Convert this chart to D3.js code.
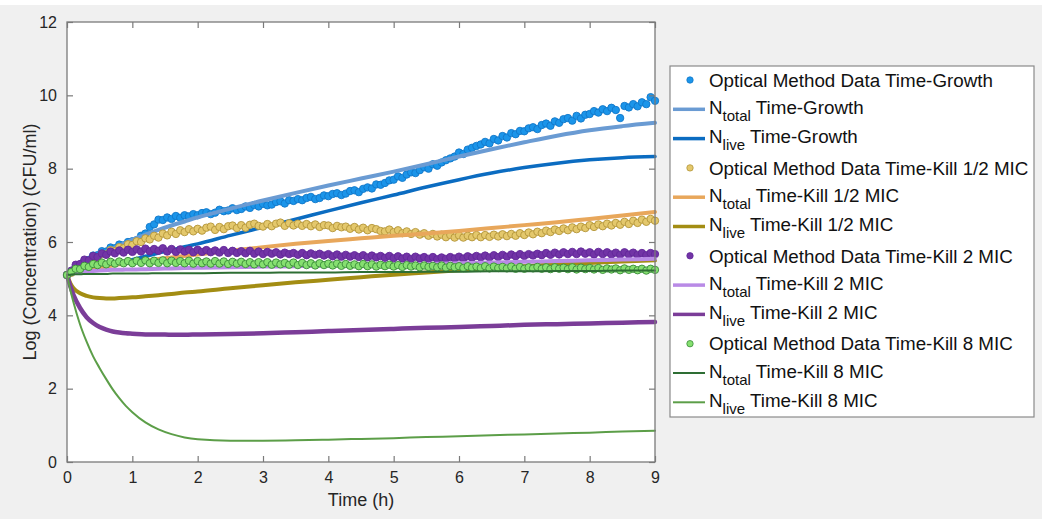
<!DOCTYPE html>
<html>
<head>
<meta charset="utf-8">
<script src="https://cdn.jsdelivr.net/npm/d3@7"></script>
<style>
  html, body { margin: 0; padding: 0; background: #ffffff; }
  svg { display: block; font-family: "Liberation Sans", Arial, Helvetica, sans-serif; }
</style>
</head>
<body>
<svg id="chart" width="1050" height="525"></svg>
<script>
// ---------------- DATA ----------------
const xTicks = [0, 1, 2, 3, 4, 5, 6, 7, 8, 9];
const yTicks = [0, 2, 4, 6, 8, 10, 12];
const xLabel = "Time (h)";
const yLabel = "Log (Concentration) (CFU/ml)";

// optical measurements sampled every 4 minutes (1/15 h), 0..9 h
const dataStep = 1 / 15;
const growthData = [
  5.10,5.18,5.33,5.36,5.49,5.51,5.63,5.64,5.75,5.74,5.85,5.83,5.93,5.91,6.00,
  6.02,6.05,6.17,6.23,6.41,6.48,6.61,6.60,6.67,6.63,6.71,6.66,6.73,6.70,6.76,
  6.73,6.79,6.81,6.76,6.80,6.88,6.84,6.86,6.92,6.87,6.90,6.97,6.93,7.01,6.97,
  7.04,7.00,7.02,7.09,7.11,7.05,7.14,7.12,7.17,7.14,7.20,7.23,7.17,7.20,7.27,
  7.25,7.31,7.33,7.28,7.32,7.39,7.41,7.36,7.45,7.49,7.46,7.57,7.56,7.61,7.68,
  7.70,7.79,7.75,7.84,7.90,7.88,7.96,8.04,8.00,8.12,8.08,8.17,8.23,8.28,8.33,
  8.44,8.40,8.52,8.57,8.62,8.66,8.73,8.69,8.81,8.77,8.89,8.85,8.97,8.94,9.03,
  9.02,9.10,9.13,9.08,9.19,9.23,9.17,9.29,9.25,9.35,9.38,9.31,9.44,9.37,9.47,
  9.49,9.57,9.53,9.62,9.57,9.66,9.60,9.38,9.71,9.67,9.76,9.70,9.81,9.76,9.95,
  9.85
];
const halfMicData = [
  5.10,5.16,5.31,5.33,5.46,5.45,5.58,5.56,5.68,5.66,5.78,5.75,5.86,5.83,5.94,
  5.92,6.02,6.00,6.10,6.07,6.17,6.12,6.23,6.18,6.28,6.22,6.32,6.27,6.35,6.29,
  6.36,6.31,6.39,6.42,6.33,6.41,6.35,6.43,6.45,6.38,6.46,6.39,6.47,6.50,6.44,
  6.42,6.49,6.43,6.50,6.53,6.44,6.51,6.45,6.50,6.44,6.49,6.43,6.48,6.41,6.46,
  6.45,6.38,6.44,6.40,6.42,6.36,6.41,6.34,6.39,6.32,6.38,6.35,6.30,6.29,6.34,
  6.27,6.32,6.24,6.29,6.22,6.27,6.20,6.24,6.17,6.22,6.15,6.20,6.13,6.19,6.12,
  6.18,6.12,6.17,6.13,6.19,6.13,6.19,6.14,6.20,6.15,6.21,6.16,6.22,6.17,6.24,
  6.19,6.26,6.21,6.28,6.24,6.31,6.27,6.34,6.30,6.37,6.32,6.40,6.35,6.42,6.38,
  6.46,6.41,6.48,6.43,6.50,6.45,6.52,6.47,6.55,6.49,6.58,6.52,6.61,6.55,6.63,
  6.58
];
const twoMicData = [
  5.10,5.22,5.38,5.40,5.52,5.50,5.62,5.59,5.69,5.65,5.74,5.69,5.77,5.71,5.79,
  5.73,5.80,5.74,5.82,5.75,5.81,5.76,5.83,5.74,5.81,5.73,5.80,5.74,5.79,5.72,
  5.79,5.73,5.78,5.72,5.77,5.71,5.78,5.70,5.76,5.70,5.75,5.69,5.76,5.68,5.74,
  5.67,5.73,5.68,5.72,5.66,5.71,5.67,5.70,5.65,5.70,5.64,5.69,5.65,5.68,5.63,
  5.67,5.61,5.66,5.60,5.65,5.60,5.64,5.59,5.64,5.58,5.63,5.58,5.62,5.57,5.62,
  5.56,5.61,5.55,5.60,5.54,5.60,5.55,5.59,5.54,5.59,5.53,5.58,5.54,5.59,5.55,
  5.60,5.55,5.61,5.57,5.62,5.58,5.63,5.58,5.64,5.59,5.65,5.60,5.66,5.61,5.67,
  5.62,5.67,5.63,5.68,5.64,5.70,5.65,5.71,5.66,5.72,5.67,5.73,5.67,5.74,5.68,
  5.72,5.66,5.73,5.67,5.72,5.66,5.71,5.65,5.72,5.66,5.71,5.65,5.70,5.64,5.70,
  5.67
];
const eightMicData = [
  5.10,5.18,5.27,5.26,5.35,5.32,5.40,5.37,5.44,5.39,5.46,5.41,5.47,5.42,5.48,
  5.42,5.49,5.43,5.50,5.42,5.49,5.43,5.50,5.42,5.49,5.43,5.48,5.42,5.49,5.41,
  5.48,5.42,5.47,5.41,5.48,5.41,5.47,5.40,5.46,5.41,5.46,5.40,5.45,5.39,5.45,
  5.39,5.45,5.38,5.44,5.39,5.43,5.38,5.44,5.37,5.43,5.37,5.42,5.36,5.42,5.37,
  5.41,5.36,5.41,5.35,5.40,5.35,5.39,5.34,5.40,5.34,5.39,5.33,5.38,5.34,5.38,
  5.33,5.37,5.32,5.37,5.33,5.36,5.31,5.36,5.32,5.35,5.31,5.36,5.30,5.35,5.31,
  5.34,5.29,5.34,5.30,5.33,5.29,5.34,5.28,5.33,5.29,5.32,5.28,5.33,5.27,5.32,
  5.27,5.31,5.28,5.32,5.27,5.31,5.26,5.31,5.27,5.30,5.26,5.31,5.25,5.30,5.26,
  5.29,5.25,5.29,5.24,5.28,5.25,5.28,5.23,5.28,5.24,5.27,5.23,5.27,5.22,5.27,
  5.24
];

// model curves
const modelTimes = [0,0.05,0.1,0.2,0.3,0.4,0.5,0.6,0.7,0.8,0.9,1,1.2,1.4,1.6,1.8,2,2.5,3,3.5,4,4.5,5,5.5,6,6.5,7,7.5,8,8.5,9];
const growthTotal = [5.10,5.16,5.22,5.33,5.44,5.54,5.63,5.72,5.81,5.90,5.98,6.06,6.20,6.33,6.45,6.56,6.67,6.91,7.13,7.34,7.54,7.73,7.92,8.12,8.33,8.53,8.72,8.90,9.05,9.16,9.25];
const growthLive  = [5.10,5.12,5.14,5.18,5.22,5.26,5.30,5.34,5.38,5.42,5.46,5.52,5.61,5.70,5.78,5.87,5.95,6.18,6.40,6.62,6.85,7.07,7.28,7.50,7.70,7.88,8.03,8.15,8.24,8.30,8.33];
const halfTotal   = [5.10,5.13,5.15,5.19,5.23,5.27,5.30,5.33,5.36,5.39,5.42,5.44,5.49,5.54,5.58,5.62,5.66,5.76,5.86,5.95,6.03,6.10,6.17,6.23,6.30,6.38,6.46,6.54,6.63,6.72,6.82];
const halfLive    = [5.10,4.88,4.74,4.60,4.53,4.49,4.47,4.46,4.46,4.47,4.48,4.49,4.52,4.55,4.58,4.62,4.65,4.74,4.82,4.90,4.97,5.04,5.11,5.17,5.23,5.29,5.34,5.39,5.43,5.47,5.50];
const twoTotal    = [5.10,5.13,5.15,5.18,5.20,5.21,5.22,5.23,5.24,5.24,5.25,5.25,5.26,5.27,5.28,5.29,5.30,5.31,5.33,5.34,5.36,5.37,5.39,5.40,5.42,5.44,5.46,5.48,5.50,5.52,5.54];
const twoLive     = [5.10,4.80,4.55,4.20,3.95,3.79,3.68,3.61,3.56,3.53,3.51,3.50,3.48,3.48,3.47,3.47,3.48,3.49,3.51,3.54,3.57,3.60,3.63,3.66,3.68,3.71,3.74,3.76,3.78,3.80,3.82];
const eightTotal  = [5.10,5.11,5.12,5.12,5.13,5.13,5.13,5.13,5.14,5.14,5.14,5.14,5.14,5.15,5.15,5.15,5.15,5.16,5.16,5.17,5.17,5.18,5.18,5.19,5.19,5.20,5.20,5.21,5.21,5.22,5.22];
const eightLive   = [5.10,4.70,4.35,3.75,3.28,2.88,2.56,2.26,1.98,1.74,1.53,1.36,1.08,0.89,0.76,0.67,0.62,0.58,0.58,0.59,0.61,0.63,0.65,0.68,0.70,0.73,0.75,0.78,0.80,0.83,0.85];

// legend labels: [main, subscript, rest]
const legendLabels = [
  ["Optical Method Data Time-Growth", "", ""],
  ["N", "total", " Time-Growth"],
  ["N", "live", " Time-Growth"],
  ["Optical Method Data Time-Kill 1/2 MIC", "", ""],
  ["N", "total", " Time-Kill 1/2 MIC"],
  ["N", "live", " Time-Kill 1/2 MIC"],
  ["Optical Method Data Time-Kill 2 MIC", "", ""],
  ["N", "total", " Time-Kill 2 MIC"],
  ["N", "live", " Time-Kill 2 MIC"],
  ["Optical Method Data Time-Kill 8 MIC", "", ""],
  ["N", "total", " Time-Kill 8 MIC"],
  ["N", "live", " Time-Kill 8 MIC"]
];

// ---------------- STYLE ----------------
const series = [
  {type: "dot",  values: growthData,   fill: "#1b95ea", stroke: "#1277c8"},
  {type: "line", values: growthTotal,  color: "#6a9bd3", width: 4},
  {type: "line", values: growthLive,   color: "#0b6cc1", width: 3.5},
  {type: "dot",  values: halfMicData,  fill: "#e4c86c", stroke: "#b3953a"},
  {type: "line", values: halfTotal,    color: "#e8a75b", width: 4},
  {type: "line", values: halfLive,     color: "#a38d13", width: 4},
  {type: "dot",  values: twoMicData,   fill: "#7234a6", stroke: "#62289a"},
  {type: "line", values: twoTotal,     color: "#b98ae6", width: 4},
  {type: "line", values: twoLive,      color: "#7b3d98", width: 4.5},
  {type: "dot",  values: eightMicData, fill: "#86e070", stroke: "#3a8a3a"},
  {type: "line", values: eightTotal,   color: "#2e6e34", width: 2},
  {type: "line", values: eightLive,    color: "#5c9e48", width: 2}
];

const svg = d3.select("#chart");
const plot = {left: 67, right: 655, top: 22, bottom: 462};

// figure background
svg.append("rect").attr("x", 0).attr("y", 5).attr("width", 1042).attr("height", 514).attr("fill", "#f0f0f0");

const x = d3.scaleLinear().domain([0, 9]).range([plot.left, plot.right]);
const y = d3.scaleLinear().domain([0, 12]).range([plot.bottom, plot.top]);

// plot area
svg.append("rect").attr("x", plot.left).attr("y", plot.top)
  .attr("width", plot.right - plot.left).attr("height", plot.bottom - plot.top)
  .attr("fill", "#ffffff");

svg.append("clipPath").attr("id", "clip").append("rect")
  .attr("x", plot.left - 5).attr("y", plot.top)
  .attr("width", plot.right - plot.left + 10).attr("height", plot.bottom - plot.top);

const g = svg.append("g").attr("clip-path", "url(#clip)");

const line = d3.line().x(d => x(d[0])).y(d => y(d[1])).curve(d3.curveMonotoneX);

series.forEach(s => {
  if (s.type === "dot") {
    const pts = s.values.map((v, i) => [i * dataStep, v]);
    g.append("g").selectAll("circle").data(pts).join("circle")
      .attr("cx", d => x(d[0])).attr("cy", d => y(d[1])).attr("r", 3.7)
      .attr("fill", s.fill).attr("stroke", s.stroke).attr("stroke-width", 0.9);
  } else {
    const pts = modelTimes.map((t, i) => [t, s.values[i]]);
    g.append("path").datum(pts).attr("d", line)
      .attr("fill", "none").attr("stroke", s.color).attr("stroke-width", s.width)
      .attr("stroke-linejoin", "round").attr("stroke-linecap", "round");
  }
});

// axes box
const axisColor = "#7a7a7a";
const textColor = "#262626";
const tickLen = 6;
svg.append("rect").attr("x", plot.left).attr("y", plot.top)
  .attr("width", plot.right - plot.left).attr("height", plot.bottom - plot.top)
  .attr("fill", "none").attr("stroke", axisColor).attr("stroke-width", 1.3);

const xAxisB = d3.axisBottom(x).tickValues(xTicks).tickSizeInner(-tickLen).tickSizeOuter(0).tickPadding(10).tickFormat(d3.format("d"));
const xAxisT = d3.axisTop(x).tickValues(xTicks).tickSizeInner(-tickLen).tickSizeOuter(0).tickFormat("");
const yAxisL = d3.axisLeft(y).tickValues(yTicks).tickSizeInner(-tickLen).tickSizeOuter(0).tickPadding(10).tickFormat(d3.format("d"));
const yAxisR = d3.axisRight(y).tickValues(yTicks).tickSizeInner(-tickLen).tickSizeOuter(0).tickFormat("");

function styleAxis(sel) {
  sel.select(".domain").remove();
  sel.selectAll(".tick line").attr("stroke", axisColor).attr("stroke-width", 1.2);
  sel.selectAll(".tick text").attr("fill", textColor).style("font-size", "16px")
    .style("font-family", "'Liberation Sans', Arial, sans-serif");
}
svg.append("g").attr("transform", `translate(0,${plot.bottom})`).call(xAxisB).call(styleAxis);
svg.append("g").attr("transform", `translate(0,${plot.top})`).call(xAxisT).call(styleAxis);
svg.append("g").attr("transform", `translate(${plot.left},0)`).call(yAxisL).call(styleAxis);
svg.append("g").attr("transform", `translate(${plot.right},0)`).call(yAxisR).call(styleAxis);

// axis labels
svg.append("text").attr("x", (plot.left + plot.right) / 2).attr("y", 506)
  .attr("text-anchor", "middle").attr("fill", textColor).style("font-size", "18px").text(xLabel);
svg.append("text").attr("transform", `translate(36,${(plot.top + plot.bottom) / 2}) rotate(-90)`)
  .attr("text-anchor", "middle").attr("fill", textColor).style("font-size", "18px").text(yLabel);

// legend
const leg = {x: 670, y: 66, w: 364, h: 351, row0: 80, rowH: 29.3};
svg.append("rect").attr("x", leg.x).attr("y", leg.y).attr("width", leg.w).attr("height", leg.h)
  .attr("fill", "#ffffff").attr("stroke", "#8a8a8a").attr("stroke-width", 1.2);

series.forEach((s, i) => {
  const cy = leg.row0 + i * leg.rowH;
  const lg = svg.append("g");
  if (s.type === "dot") {
    lg.append("circle").attr("cx", 690).attr("cy", cy).attr("r", 3.2)
      .attr("fill", s.fill).attr("stroke", s.stroke).attr("stroke-width", 0.8);
  } else {
    lg.append("line").attr("x1", 673).attr("x2", 705).attr("y1", cy).attr("y2", cy)
      .attr("stroke", s.color).attr("stroke-width", Math.min(s.width, 3.5));
  }
  const lab = legendLabels[i];
  const t = lg.append("text").attr("x", 709)
    .attr("y", lab[1] ? cy + 4.5 : cy + 6.7)
    .attr("fill", "#111111").style("font-size", "18.8px");
  t.append("tspan").text(lab[0]);
  if (lab[1]) {
    t.append("tspan").attr("dy", 7).style("font-size", "15px").text(lab[1]);
    t.append("tspan").attr("dy", -7).text(lab[2]);
  }
});
</script>
</body>
</html>
